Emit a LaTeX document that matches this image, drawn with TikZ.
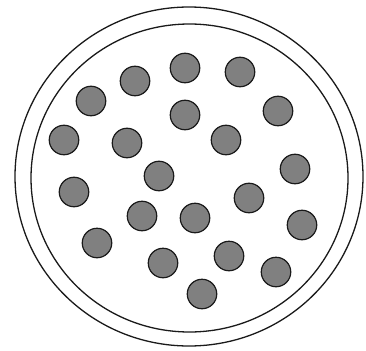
\documentclass[tikz,border=0pt]{standalone}
\usepackage{xcolor}
\usepackage{tikz}
\definecolor{dotgray}{HTML}{808080}
\definecolor{rimcol} {HTML}{1A1A1A}

\begin{document}
\begin{tikzpicture}[
    x=1pt, y=-1pt,
    rim/.style    = {draw=rimcol, line width=1.3pt},
    colony/.style = {
        circle, draw=rimcol, fill=dotgray,
        line width=1.2pt, minimum size=29.5pt, inner sep=0pt
    }
  ]
  \useasboundingbox (0,0) rectangle (366,350);

  %% Dish -- outer and inner rim
  \draw[rim] (189,176.5) ellipse [x radius=174, y radius=169.5];
  \draw[rim] (189.5,178) ellipse [x radius=158.5, y radius=154];

  %% Colonies
  \foreach \px/\py [count=\i] in {135/81, 185/68, 240/72, 91/101, 185/115,
      278/111, 64/140, 127/143, 226/140, 159/176, 295/169, 74/192,
      249/198, 142/216, 195/218, 302/225, 97/243, 163/263, 229/256,
      276/272, 202/294}
    \node[colony] (c\i) at (\px,\py) {};

\end{tikzpicture}
\end{document}
